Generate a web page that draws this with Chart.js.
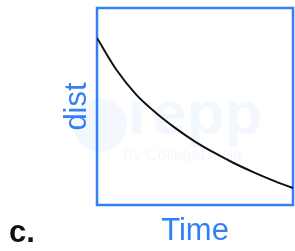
<!DOCTYPE html>
<html lang="en">
<head>
  <meta charset="UTF-8" />
  <title>dist vs Time</title>
  <script src="https://cdn.jsdelivr.net/npm/chart.js"></script>
  <style>
    body { margin: 0; background: #fff; }
    .wrap { position: relative; width: 295px; height: 251px; }
  </style>
</head>
<body>
  <div class="wrap"><canvas id="c"></canvas></div>

  <script>
    // values
    const times = [0, 1, 2, 3, 4, 5, 6, 7, 8, 9, 10];
    const dist = [8.48, 6.85, 5.6, 4.68, 3.9, 3.22, 2.64, 2.12, 1.66, 1.24, 0.86];
    const xLabel = "Time";
    const yLabel = "dist";
    const partLabel = "c.";

    const blue = "#3380f5";

    // box, axis titles, watermark
    const frame = {
      id: "frame",
      beforeDatasetsDraw(chart) {
        const { ctx, chartArea: a } = chart;
        ctx.save();
        // faint watermark
        ctx.fillStyle = "rgba(51,128,245,0.06)";
        ctx.beginPath();
        ctx.arc(100, 125, 27, 0, Math.PI * 2);
        ctx.fill();
        ctx.font = "bold 62px 'Liberation Sans', Arial, sans-serif";
        ctx.textBaseline = "alphabetic";
        ctx.fillText("repp", 128, 134);
        ctx.font = "16px 'Liberation Sans', Arial, sans-serif";
        ctx.fillText("By CollegeDunia", 123, 160);

        ctx.strokeStyle = blue;
        ctx.lineWidth = 2.5;
        ctx.strokeRect(a.left, a.top, a.right - a.left, a.bottom - a.top);
        ctx.restore();
      },
      afterDraw(chart) {
        const { ctx, chartArea: a } = chart;
        ctx.save();
        ctx.fillStyle = blue;
        ctx.font = "31px 'Liberation Sans', Arial, sans-serif";
        ctx.textAlign = "center";
        ctx.textBaseline = "alphabetic";
        ctx.fillText(xLabel, (a.left + a.right) / 2, 240);

        ctx.translate(86, (a.top + a.bottom) / 2);
        ctx.rotate(-Math.PI / 2);
        ctx.fillText(yLabel, 0, 0);
        ctx.restore();

        ctx.save();
        ctx.fillStyle = "#111";
        ctx.font = "bold 31px 'Liberation Sans', Arial, sans-serif";
        ctx.textAlign = "left";
        ctx.fillText(partLabel, 9, 242);
        ctx.restore();
      }
    };

    new Chart(document.getElementById("c"), {
      type: "line",
      data: {
        labels: times,
        datasets: [{
          data: times.map((t, i) => ({ x: t, y: dist[i] })),
          borderColor: "#111",
          borderWidth: 2,
          pointRadius: 0,
          fill: false,
          cubicInterpolationMode: "monotone"
        }]
      },
      options: {
        responsive: true,
        maintainAspectRatio: false,
        animation: false,
        layout: { padding: { left: 97, right: 2, top: 8, bottom: 46 } },
        scales: {
          x: { type: "linear", min: 0, max: 10, display: false },
          y: { min: 0, max: 10, display: false }
        },
        plugins: {
          legend: { display: false },
          tooltip: { enabled: false }
        }
      },
      plugins: [frame]
    });
  </script>
</body>
</html>
